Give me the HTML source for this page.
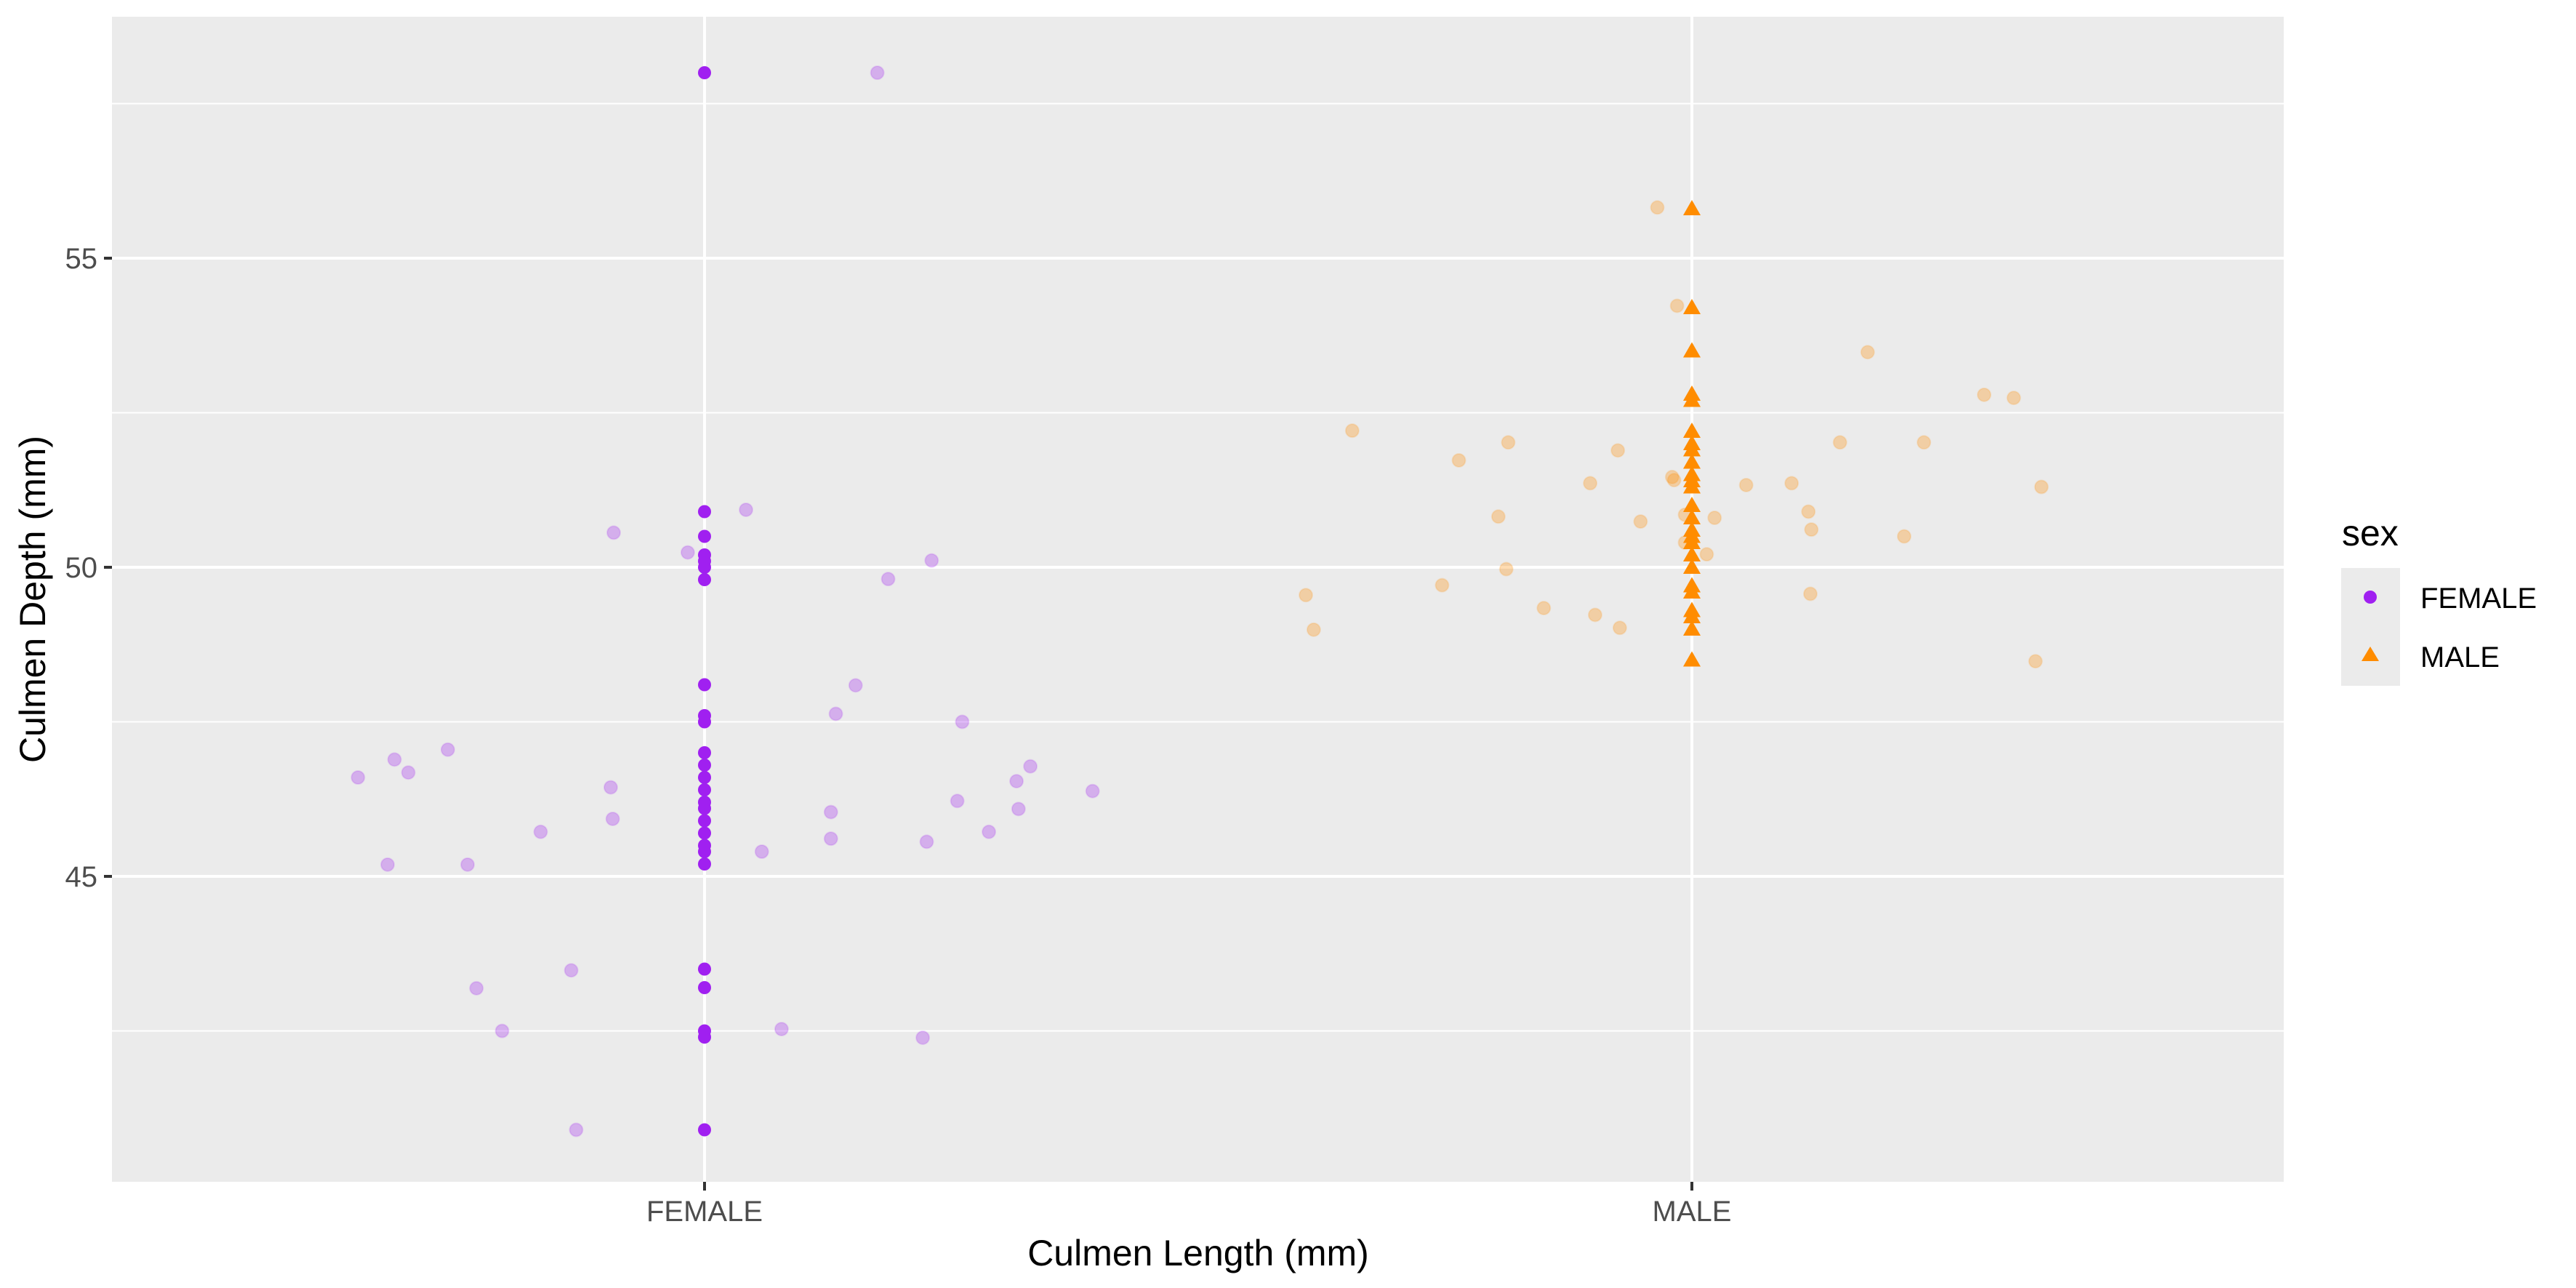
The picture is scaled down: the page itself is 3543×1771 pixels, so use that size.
<!DOCTYPE html>
<html><head><meta charset="utf-8"><style>
html,body{margin:0;padding:0;background:#fff;}
svg{display:block;font-family:"Liberation Sans",sans-serif;}
</style></head><body>
<svg id="chart" width="3543" height="1771" viewBox="0 0 3543 1771" xmlns="http://www.w3.org/2000/svg">
<rect x="154" y="23" width="2987" height="1602" fill="#EBEBEB"/>
<g id="grid"></g>
<g id="points"></g>
<g id="axes"></g>
<text x="1648" y="1740" font-size="50" text-anchor="middle" fill="#000">Culmen Length (mm)</text>
<text transform="translate(62,824) rotate(-90)" font-size="50" text-anchor="middle" fill="#000">Culmen Depth (mm)</text>
<g>
<text x="3221" y="750" font-size="50" fill="#000">sex</text>
<rect x="3220" y="781" width="81" height="162" fill="#EBEBEB"/>
<circle cx="3260" cy="821" r="9" fill="#A020F0"/>
<polygon points="3260,889 3272,909 3248,909" fill="#FF8C00"/>
<text x="3329" y="836" font-size="40" fill="#000">FEMALE</text>
<text x="3329" y="917" font-size="40" fill="#000">MALE</text>
</g>
</svg>
<script>
const categories = ["FEMALE","MALE"];
const yTicks = [45,50,55];
const yMinor = [42.5,47.5,52.5,57.5];
const femaleDepth = [58,50.9,50.5,50.2,50.1,50.0,49.8,48.1,47.6,47.5,47.0,46.8,46.6,46.4,46.2,46.1,45.9,45.7,45.5,45.4,45.2,43.5,43.2,42.5,42.4,40.9];
const maleDepth = [55.8,54.2,53.5,52.8,52.7,52.2,52.0,51.9,51.7,51.5,51.4,51.3,51.0,50.8,50.6,50.5,50.4,50.2,50.0,49.7,49.6,49.3,49.2,49.0,48.5];
const femaleJitterX = [-0.351,-0.314,-0.3,-0.26,-0.321,-0.24,-0.231,-0.205,-0.135,-0.13,-0.166,-0.095,-0.093,-0.092,-0.017,0.042,0.058,0.078,0.128,0.128,0.133,0.153,0.175,0.186,0.221,0.225,0.23,0.256,0.261,0.288,0.316,0.318,0.33,0.393];
const femaleJitterY = [46.6,46.89,46.68,47.05,45.19,45.19,43.19,42.5,43.48,40.9,45.72,46.44,45.93,50.56,50.24,50.93,45.4,42.53,46.04,45.61,47.63,48.09,58.0,49.81,42.39,45.56,50.11,46.22,47.5,45.72,46.54,46.09,46.78,46.38];
const maleJitterX = [-0.391,-0.383,-0.344,-0.253,-0.236,-0.196,-0.188,-0.186,-0.15,-0.103,-0.098,-0.075,-0.073,-0.052,-0.035,-0.02,-0.018,-0.015,-0.007,-0.007,0.015,0.023,0.055,0.101,0.118,0.121,0.12,0.15,0.178,0.215,0.235,0.296,0.326,0.348,0.354];
const maleJitterY = [49.55,48.99,52.21,49.71,51.73,50.82,49.97,52.02,49.34,51.36,49.23,51.89,49.02,50.74,55.82,51.46,51.41,54.23,50.85,50.4,50.21,50.8,51.33,51.36,50.9,50.61,49.57,52.02,53.48,50.5,52.02,52.79,52.74,48.48,51.3];

const NS="http://www.w3.org/2000/svg";
const PL=154, PR=3141, PT=23, PB=1625;
const xPos = (ci, off) => 969 + (ci + off) * 1358;
const yPos = v => 780 - (v - 50) * 85.0;
function mk(tag, attrs, parent){const e=document.createElementNS(NS,tag);for(const k in attrs)e.setAttribute(k,attrs[k]);parent.appendChild(e);return e;}
const grid=document.getElementById('grid'), pts=document.getElementById('points'), axes=document.getElementById('axes');
yMinor.forEach(v=>{const l=mk('line',{x1:PL,x2:PR,y1:yPos(v),y2:yPos(v),stroke:'#fff','stroke-width':2},grid);

});
yTicks.forEach(v=>{const l=mk('line',{x1:PL,x2:PR,y1:yPos(v),y2:yPos(v),stroke:'#fff','stroke-width':4},grid);


const t=mk('line',{x1:PL-11,x2:PL,y1:yPos(v),y2:yPos(v),stroke:'#333','stroke-width':4},axes);


const tx=mk('text',{x:PL-20,y:yPos(v)+14,'font-size':40,'text-anchor':'end',fill:'#4D4D4D'},axes);
tx.textContent=v;

});
categories.forEach((c,i)=>{const x=xPos(i,0);
const l=mk('line',{x1:x,x2:x,y1:PT,y2:PB,stroke:'#fff','stroke-width':4},grid);


const t=mk('line',{x1:x,x2:x,y1:PB,y2:PB+12,stroke:'#333','stroke-width':4},axes);


const tx=mk('text',{x:x,y:1679,'font-size':40,'text-anchor':'middle',fill:'#4D4D4D'},axes);
tx.textContent=c;

});
femaleJitterX.forEach((o,i)=>{const c=mk('circle',{cx:xPos(0,o),cy:yPos(femaleJitterY[i]),r:9,fill:'#A020F0','fill-opacity':0.3,stroke:'#A020F0','stroke-opacity':0.15,'stroke-width':2},pts);

});
maleJitterX.forEach((o,i)=>{const c=mk('circle',{cx:xPos(1,o),cy:yPos(maleJitterY[i]),r:9,fill:'#FF8C00','fill-opacity':0.3,stroke:'#FF8C00','stroke-opacity':0.15,'stroke-width':2},pts);

});
femaleDepth.forEach(v=>{const c=mk('circle',{cx:xPos(0,0),cy:yPos(v),r:9,fill:'#A020F0'},pts);

});
maleDepth.forEach(v=>{const x=xPos(1,0),y=yPos(v);
const p=mk('polygon',{points:`${x},${y-12} ${x+12},${y+9} ${x-12},${y+9}`,fill:'#FF8C00'},pts);

});
</script>
</body></html>
